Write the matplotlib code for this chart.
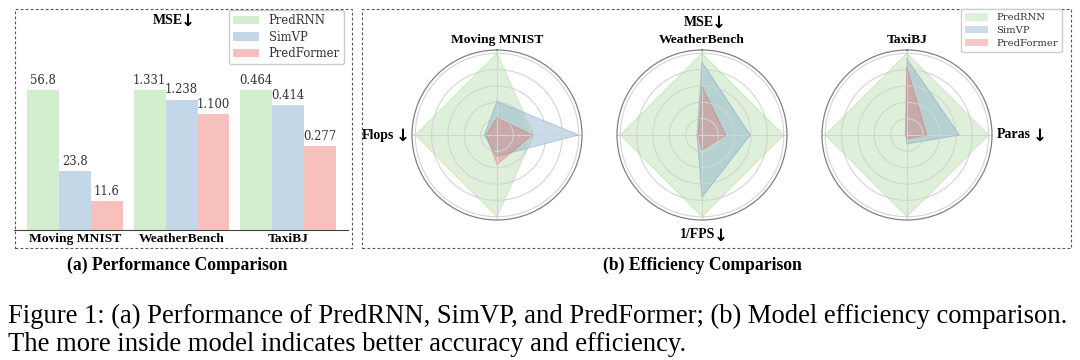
import numpy as np
import matplotlib
matplotlib.use("Agg")
import matplotlib.pyplot as plt
from matplotlib.patches import Rectangle, Patch

# ---------------- data ----------------
datasets = ["Moving MNIST", "WeatherBench", "TaxiBJ"]
models = ["PredRNN", "SimVP", "PredFormer"]
mse_predrnn = [56.8, 1.331, 0.464]
mse_simvp = [23.8, 1.238, 0.414]
mse_predformer = [11.6, 1.100, 0.277]
value_formats = ["{:.1f}", "{:.3f}", "{:.3f}"]

# radar metrics, clockwise from top
metrics = ["MSE", "Paras", "1/FPS", "Flops"]
radar_mnist_predrnn = [1.00, 0.45, 1.00, 1.00]
radar_mnist_simvp = [0.41, 1.00, 0.26, 0.155]
radar_mnist_predformer = [0.21, 0.43, 0.36, 0.13]
radar_weather_predrnn = [1.00, 1.00, 1.00, 1.00]
radar_weather_simvp = [0.89, 0.59, 0.76, 0.06]
radar_weather_predformer = [0.59, 0.29, 0.18, 0.045]
radar_taxi_predrnn = [1.00, 1.00, 1.00, 1.00]
radar_taxi_simvp = [0.93, 0.64, 0.11, 0.01]
radar_taxi_predformer = [0.82, 0.24, 0.05, 0.02]

# ---------------- style ----------------
bar_colors = ["#d3edcf", "#c3d7e8", "#f8c0bd"]
radar_colors = ["#a3d495", "#6a98c3", "#eb6262"]
radar_alpha = 0.35
SERIF_B = ["Liberation Serif", "DejaVu Serif"]
W, H = 1080, 360

fig = plt.figure(figsize=(10.8, 3.6), dpi=100)


def fx(px):
    return px / W


def fy(py):
    return 1 - py / H


# ---------------- (a) bar chart ----------------
ax = fig.add_axes([fx(14), fy(230), fx(348) - fx(14), fy(9) - fy(230)])
x = np.arange(len(datasets))
bw = 0.30
series = [mse_predrnn, mse_simvp, mse_predformer]
for i, (m, vals) in enumerate(zip(models, series)):
    norm = [v / max(a, b, c) for v, a, b, c in zip(vals, mse_predrnn, mse_simvp, mse_predformer)]
    pos = x + (i - 1) * bw
    ax.bar(pos, norm, width=bw, color=bar_colors[i], label=m)
    for p, n, v, f in zip(pos, norm, vals, value_formats):
        ax.text(p, n + 0.025, f.format(v), ha="center", va="bottom",
                fontsize=8.4, family="DejaVu Serif", color="#333333")
ax.set_xlim(-0.573, 2.563)
ax.set_ylim(0, 221 / 140)
ax.set_xticks(x)
ax.set_xticklabels(datasets, fontsize=9.7, fontweight="bold", family=SERIF_B)
ax.tick_params(axis="x", length=0, pad=2)
ax.set_yticks([])
for s in ["left", "right", "top"]:
    ax.spines[s].set_visible(False)
ax.spines["bottom"].set_color("#444444")
ax.spines["bottom"].set_linewidth(0.8)
ax.patch.set_alpha(0)

leg = ax.legend(loc="upper right", bbox_to_anchor=(fx(344), fy(10)),
                bbox_transform=fig.transFigure, borderaxespad=0,
                prop={"family": "DejaVu Serif", "size": 8.4},
                handlelength=2.3, handleheight=0.8, labelspacing=0.3, borderpad=0.35,
                fancybox=True, framealpha=1, edgecolor="#cccccc")
for t in leg.get_texts():
    t.set_color("#333333")


def arrow_label(px, py, s, ha, gap=-1.5, size=10):
    t = fig.text(fx(px), fy(py), s, ha=ha, va="center", fontsize=size,
                 fontweight="bold", family=SERIF_B)
    ax.annotate("↓", xy=(1, 0.42), xycoords=t, xytext=(gap, 0),
                textcoords="offset points", ha="left", va="center",
                fontsize=size + 2, fontweight="bold", family="DejaVu Sans",
                annotation_clip=False)
    return t


arrow_label(168, 20, "MSE", "center")

# ---------------- (b) radar charts ----------------
angles = np.arange(len(metrics)) * 2 * np.pi / len(metrics)
closed = np.concatenate([angles, angles[:1]])
radars = [
    ("Moving MNIST", 497, [radar_mnist_predrnn, radar_mnist_simvp, radar_mnist_predformer]),
    ("WeatherBench", 702, [radar_weather_predrnn, radar_weather_simvp, radar_weather_predformer]),
    ("TaxiBJ", 907, [radar_taxi_predrnn, radar_taxi_simvp, radar_taxi_predformer]),
]
cy = 135
R = 85
for title, cx, data in radars:
    rax = fig.add_axes([fx(cx - R), fy(cy + R), fx(2 * R), fy(cy - R) - fy(cy + R)],
                       projection="polar")
    rax.set_theta_offset(np.pi / 2)
    rax.set_theta_direction(-1)
    for i, vals in enumerate(data):
        v = np.concatenate([vals, vals[:1]])
        rax.fill(closed, v, color=radar_colors[i], alpha=radar_alpha, lw=0, label=models[i])
        rax.plot(closed, v, color=radar_colors[i], alpha=0.35, lw=0.9)
    rax.set_ylim(0, 1.04)
    rax.set_yticks([0.2, 0.4, 0.6, 0.8, 1.0])
    rax.set_yticklabels([])
    rax.set_xticks(angles)
    rax.set_xticklabels([])
    rax.grid(color="#d4d4d4", lw=0.8)
    rax.spines["polar"].set_color("#808080")
    rax.spines["polar"].set_linewidth(0.9)
    fig.text(fx(cx), fy(40), title, ha="center", va="center", fontsize=9.7,
             fontweight="bold", family=SERIF_B)

arrow_label(394, cy, "Flops", "right", gap=1.5)
arrow_label(699, 22, "MSE", "center")
arrow_label(698, 235, "1/FPS", "center")
arrow_label(997, cy, "Paras", "left", gap=1.5)

handles = [Patch(facecolor=radar_colors[i], alpha=radar_alpha, edgecolor="none", label=m)
           for i, m in enumerate(models)]
leg2 = fig.legend(handles=handles, loc="upper right", bbox_to_anchor=(fx(1062), fy(9)),
                  bbox_transform=fig.transFigure, borderaxespad=0,
                  prop={"family": "DejaVu Serif", "size": 7.2},
                  handlelength=2.3, handleheight=0.8, labelspacing=0.35,
                  fancybox=True, framealpha=1, edgecolor="#cccccc")
for t in leg2.get_texts():
    t.set_color("#333333")

# ---------------- boxes & sub-captions ----------------
for x0, x1 in [(15, 352), (362, 1071)]:
    fig.add_artist(Rectangle((fx(x0), fy(248)), fx(x1) - fx(x0), fy(9) - fy(248),
                             transform=fig.transFigure, fill=False, lw=0.8,
                             ls=(0, (2.5, 2)), ec="#555555"))

fig.text(fx(177), fy(265), "(a) Performance Comparison", ha="center", va="center",
         fontsize=12.7, fontweight="bold", family=SERIF_B)
fig.text(fx(702), fy(265), "(b) Efficiency Comparison", ha="center", va="center",
         fontsize=12.7, fontweight="bold", family=SERIF_B)

cap1 = "Figure 1: (a) Performance of PredRNN, SimVP, and PredFormer; (b) Model efficiency comparison."
cap2 = "The more inside model indicates better accuracy and efficiency."
fig.text(fx(8), fy(323), cap1, ha="left", va="baseline", fontsize=19.2, family=SERIF_B)
fig.text(fx(8), fy(351), cap2, ha="left", va="baseline", fontsize=19.2, family=SERIF_B)

fig.savefig("out.png", dpi=100, facecolor="white")
